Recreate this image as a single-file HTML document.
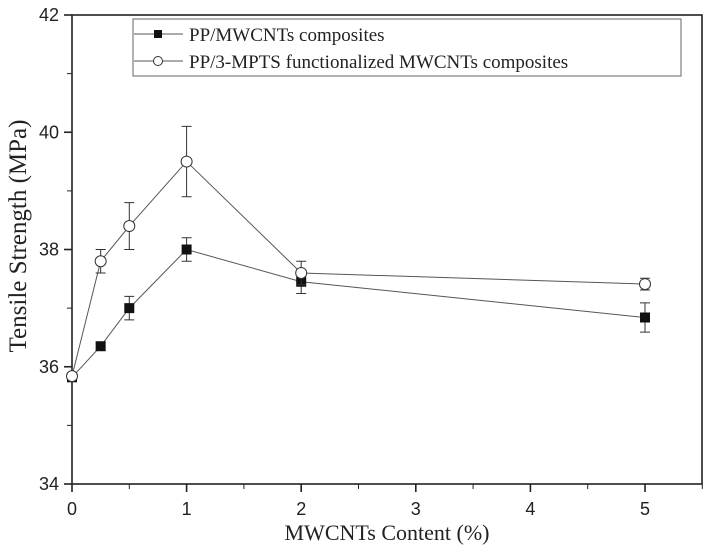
<!DOCTYPE html>
<html><head><meta charset="utf-8"><style>
body{margin:0;background:#fff;}
svg text{font-family:"Liberation Sans",sans-serif;fill:#222;}
.serif{font-family:"Liberation Serif",serif !important;}
</style></head><body>
<svg width="714" height="547">
<g id="axes"></g><g id="marks"></g>
<g>
<rect x="133" y="19" width="548" height="57" fill="#fff" stroke="#666" stroke-width="1"/>
<line x1="134" y1="34" x2="183" y2="34" stroke="#555"/>
<rect x="154" y="30" width="8" height="8" fill="#111"/>
<text class="serif" x="189" y="41" font-size="19">PP/MWCNTs composites</text>
<line x1="134" y1="61" x2="183" y2="61" stroke="#555"/>
<circle cx="158" cy="61" r="4.5" fill="#fff" stroke="#333"/>
<text class="serif" x="189" y="68" font-size="19">PP/3-MPTS functionalized MWCNTs composites</text>
</g>
<text class="serif" x="387" y="540" font-size="22" text-anchor="middle">MWCNTs Content (%)</text>
<text class="serif" transform="translate(26,236) rotate(-90)" font-size="25" text-anchor="middle">Tensile Strength (MPa)</text>
</svg>
<script>
const xs=[0,0.25,0.5,1,2,5];
const s1=[35.82,36.35,37.0,38.0,37.45,36.84];
const e1=[0.05,0.07,0.2,0.2,0.2,0.25];
const s2=[35.84,37.8,38.4,39.5,37.6,37.41];
const e2=[0.05,0.2,0.4,0.6,0.2,0.1];
const xTicks=[0,1,2,3,4,5];
const yTicks=[34,36,38,40,42];
const X=v=>72+v*114.6, Y=v=>484-(v-34)*58.625;
const NS='http://www.w3.org/2000/svg';
function mk(t,a,p){const e=document.createElementNS(NS,t);for(const k in a)e.setAttribute(k,a[k]);p.appendChild(e);return e;}
const ax=document.getElementById('axes'), mg=document.getElementById('marks');
const frame=mk('rect',{x:72,y:15,width:630,height:469,fill:'none',stroke:'#222','stroke-width':1.6},ax);


xTicks.forEach(v=>{mk('line',{x1:X(v),y1:484,x2:X(v),y2:492,stroke:'#222','stroke-width':1.6},ax);
const t=mk('text',{x:X(v),y:515,'font-size':18,'text-anchor':'middle'},ax);t.textContent=v;


if(v<5.5)mk('line',{x1:X(v+0.5),y1:484,x2:X(v+0.5),y2:489,stroke:'#222'},ax);});
yTicks.forEach(v=>{mk('line',{x1:64,y1:Y(v),x2:72,y2:Y(v),stroke:'#222','stroke-width':1.6},ax);
const t=mk('text',{x:59,y:Y(v)+6,'font-size':18,'text-anchor':'end'},ax);t.textContent=v;


if(v<42)mk('line',{x1:67,y1:Y(v+1),x2:72,y2:Y(v+1),stroke:'#222'},ax);});
function series(vals,errs,sq,name){
const g=mk('g',{},mg);


mk('polyline',{points:xs.map((x,i)=>X(x)+','+Y(vals[i])).join(' '),fill:'none',stroke:'#555','stroke-width':1},g);
xs.forEach((x,i)=>{const cx=X(x),cy=Y(vals[i]),t=Y(vals[i]+errs[i]),b=Y(vals[i]-errs[i]);
mk('path',{d:`M${cx},${t}V${b}M${cx-5},${t}H${cx+5}M${cx-5},${b}H${cx+5}`,stroke:'#333',fill:'none'},g);
let m;
if(sq)m=mk('rect',{x:cx-5,y:cy-5,width:10,height:10,fill:'#111'},g);
else m=mk('circle',{cx:cx,cy:cy,r:5.5,fill:'#fff',stroke:'#333'},g);

});}
series(s1,e1,true,'series-pp-mwcnts');
series(s2,e2,false,'series-functionalized');
</script>
</body></html>
